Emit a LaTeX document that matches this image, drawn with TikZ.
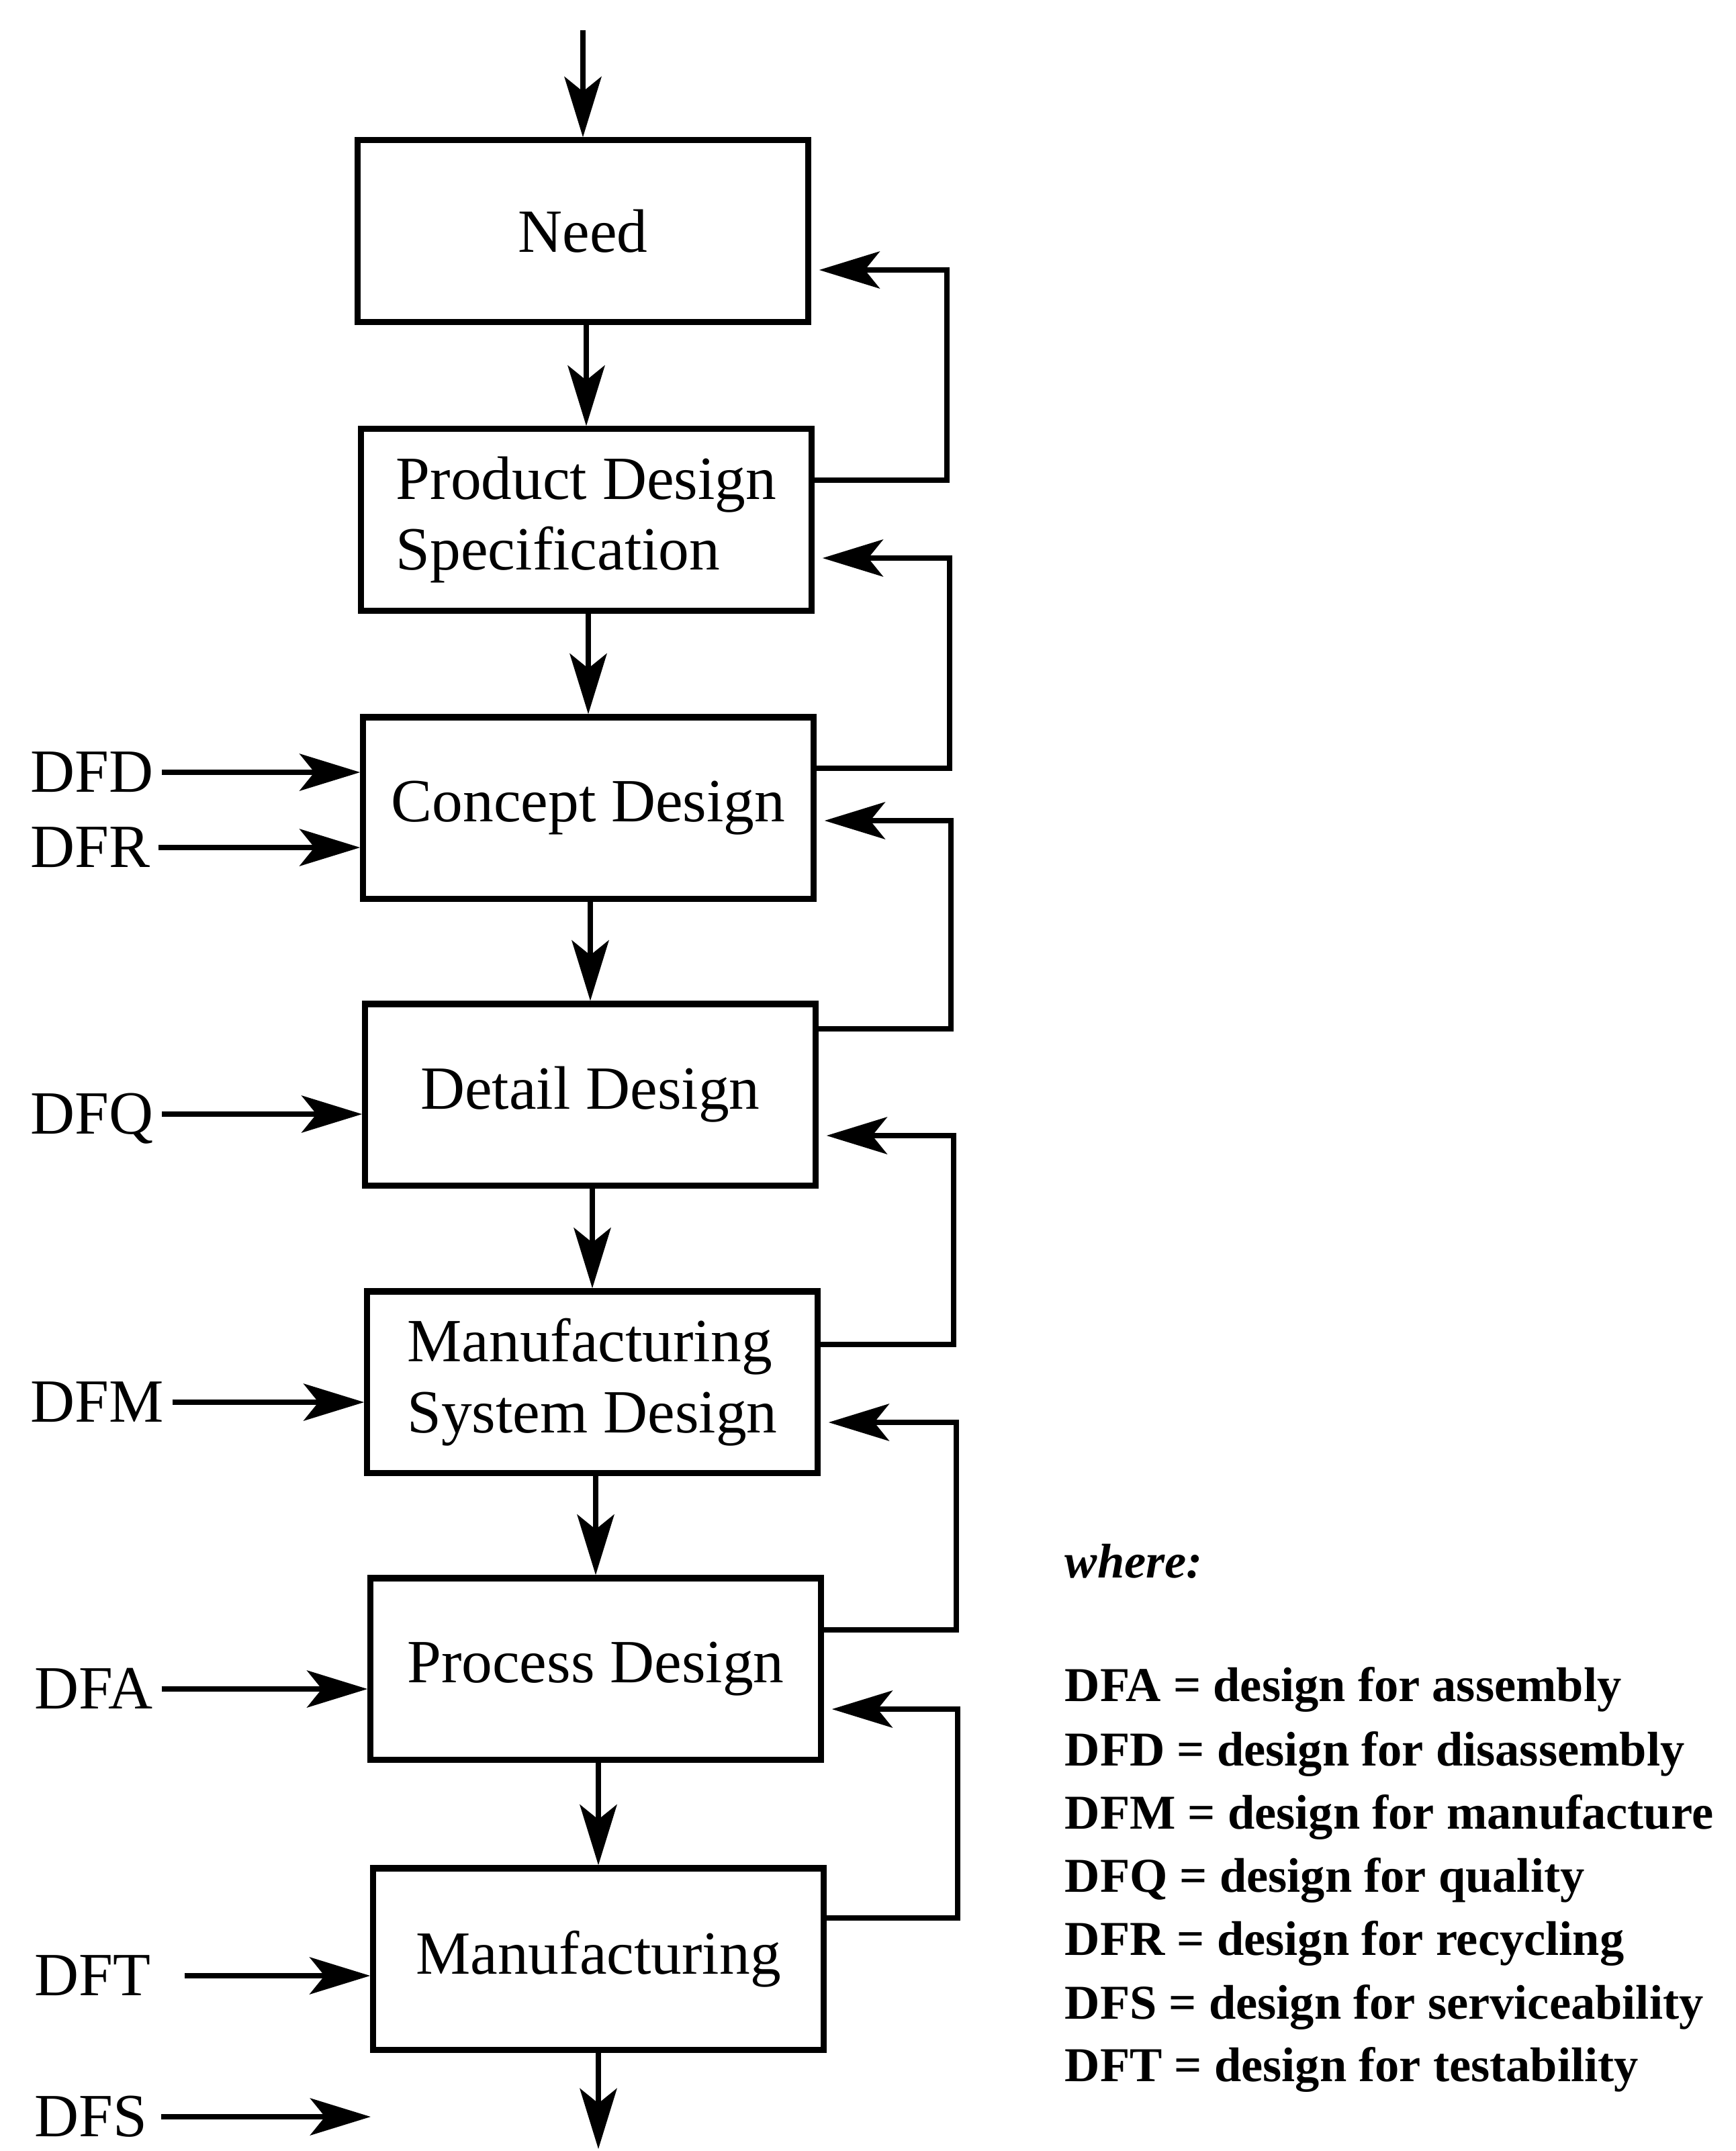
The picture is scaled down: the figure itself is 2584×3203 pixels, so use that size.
\documentclass[tikz,border=0pt]{standalone}
\usepackage{fontspec}
\setmainfont{Liberation Serif}
\usetikzlibrary{arrows.meta}
\begin{document}
\begin{tikzpicture}[x=0.01cm,y=-0.01cm,
  box/.style={draw, line width=2.6pt, minimum width=6.7cm, minimum height=2.7cm, inner sep=0pt, align=left, font=\fontsize{26}{30}\selectfont},
  lab/.style={anchor=west, inner sep=0pt, text height=17pt, text depth=0pt, font=\fontsize{26}{30}\selectfont},
  arr/.style={line width=2.3pt, -{Stealth[length=0.9cm,width=0.55cm,inset=0.22cm]}},
  inarr/.style={arr, shorten <=0.12cm},
  fb/.style={arr, shorten >=0.12cm},
  leg/.style={anchor=base west, inner sep=0pt, font=\bfseries\fontsize{20.6}{26}\selectfont}]
\useasboundingbox (0,0) rectangle (2584,3203);

% main boxes
\node[box] (need) at (868,344) {Need};
\node[box] (pds) at (873,774) {Product Design\\Specification};
\node[box] (cd) at (876,1203) {Concept Design};
\node[box] (dd) at (879,1630) {Detail Design};
\node[box] (msd) at (882,2058) {Manufacturing\\System Design};
\node[box] (pd) at (887,2485) {Process Design};
\node[box] (mf) at (891,2917) {Manufacturing};

% vertical flow
\coordinate (top) at (868,45);
\coordinate (bot) at (893,3200);
\draw[arr] (top) -- (need.north);
\draw[arr] (pds.north |- need.south) -- (pds.north);
\draw[arr] (cd.north |- pds.south) -- (cd.north);
\draw[arr] (dd.north |- cd.south) -- (dd.north);
\draw[arr] (msd.north |- dd.south) -- (msd.north);
\draw[arr] (pd.north |- msd.south) -- (pd.north);
\draw[arr] (mf.north |- pd.south) -- (mf.north);
\draw[arr] (mf.south) -- (mf.south |- bot);

% feedback loops
\draw[fb] (pds.east |- 0,715) -- (1410,715) -- (1410,402) -- (need.east |- 0,402);
\draw[fb] (cd.east |- 0,1144) -- (1414,1144) -- (1414,831) -- (pds.east |- 0,831);
\draw[fb] (dd.east |- 0,1532) -- (1416,1532) -- (1416,1222) -- (cd.east |- 0,1222);
\draw[fb] (msd.east |- 0,2002) -- (1420,2002) -- (1420,1691) -- (dd.east |- 0,1691);
\draw[fb] (pd.east |- 0,2427) -- (1424,2427) -- (1424,2118) -- (msd.east |- 0,2118);
\draw[fb] (mf.east |- 0,2856) -- (1426,2856) -- (1426,2545) -- (pd.east |- 0,2545);

% left inputs
\node[lab] (dfd) at (45,1150) {DFD};
\node[lab] (dfr) at (45,1262) {DFR};
\node[lab] (dfq) at (45,1659) {DFQ};
\node[lab] (dfm) at (45,2088) {DFM};
\node[lab] (dfa) at (51,2515) {DFA};
\node[lab] (dft) at (51,2942) {DFT};
\node[lab] (dfs) at (51,3152) {DFS};
\coordinate (dfsend) at (552,3152);
\draw[inarr] (dfd.east) -- (cd.west |- dfd.east);
\draw[inarr] (dfr.east) -- (cd.west |- dfr.east);
\draw[inarr] (dfq.east) -- (dd.west |- dfq.east);
\draw[inarr] (dfm.east) -- (msd.west |- dfm.east);
\draw[inarr] (dfa.east) -- (pd.west |- dfa.east);
\draw[arr, shorten <=0.5cm] (dft.east) -- (mf.west |- dft.east);
\draw[arr, shorten <=0.2cm] (dfs.east) -- (dfsend);

% legend
\node[leg, font=\bfseries\itshape\fontsize{20.6}{26}\selectfont] (where) at (1585,2349) {where:};
\node[leg] (l1) at (1585,2533) {DFA = design for assembly};
\node[leg] (l2) at (1585,2629) {DFD = design for disassembly};
\node[leg] (l3) at (1585,2723) {DFM = design for manufacture};
\node[leg] (l4) at (1585,2817) {DFQ = design for quality};
\node[leg] (l5) at (1585,2911) {DFR = design for recycling};
\node[leg] (l6) at (1585,3006) {DFS = design for serviceability};
\node[leg] (l7) at (1585,3099) {DFT = design for testability};
\end{tikzpicture}
\end{document}
